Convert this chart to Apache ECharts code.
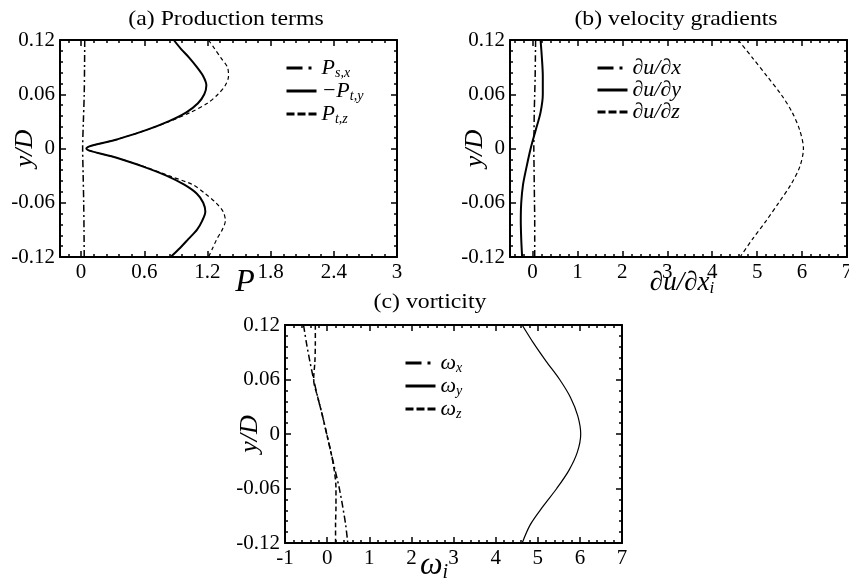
<!DOCTYPE html>
<html>
<head>
<meta charset="utf-8">
<script src="https://cdn.jsdelivr.net/npm/echarts@6/dist/echarts.min.js"></script>
<style>
  html, body { margin: 0; padding: 0; background: #fff; }
  #chart { width: 849px; height: 582px; }
</style>
</head>
<body>
<div id="chart"></div>
<script>
// y/D stations
const yFine = [0.12, 0.11, 0.10, 0.09, 0.08, 0.07, 0.06, 0.05, 0.04, 0.03, 0.02, 0.01, 0,
  -0.01, -0.02, -0.03, -0.04, -0.05, -0.06, -0.07, -0.08, -0.09, -0.10, -0.11, -0.12];
const yCoarse = [0.12, 0.10, 0.08, 0.06, 0.04, 0.02, 0, -0.02, -0.04, -0.06, -0.08, -0.10, -0.12];
const yPsx = [0.12, 0.09, 0.06, 0.03, 0, -0.03, -0.06, -0.09, -0.12];

// (a) production terms
const psx = [0.035, 0.033, 0.03, 0.022, 0.015, 0.02, 0.025, 0.028, 0.03];
const ptyNeg = [0.88, 0.95, 1.03, 1.10, 1.16, 1.19, 1.17, 1.11, 1.00, 0.83, 0.61, 0.34, 0.05,
  0.33, 0.59, 0.81, 0.98, 1.10, 1.16, 1.18, 1.15, 1.10, 1.02, 0.94, 0.85];
const ptz = [1.21, 1.27, 1.33, 1.39, 1.40, 1.37, 1.30, 1.20, 1.04, 0.84, 0.61, 0.34, 0.05,
  0.33, 0.60, 0.83, 1.06, 1.18, 1.28, 1.35, 1.37, 1.34, 1.29, 1.25, 1.21];

// (b) velocity gradients
const dudx = [0.07, 0.065, 0.06, 0.05, 0.04, 0.035, 0.03, 0.035, 0.04, 0.045, 0.05, 0.05, 0.05];
const dudy = [0.18, 0.21, 0.23, 0.23, 0.18, 0.07, -0.04, -0.13, -0.21, -0.25, -0.26, -0.25, -0.23];
const dudz = [4.58, 4.90, 5.22, 5.53, 5.78, 5.95, 6.03, 5.95, 5.75, 5.48, 5.20, 4.90, 4.62];

// (c) vorticity
const omx = [-0.56, -0.49, -0.41, -0.32, -0.22, -0.11, -0.01, 0.09, 0.19, 0.29, 0.37, 0.44, 0.49];
const omy = [4.63, 4.90, 5.20, 5.52, 5.78, 5.95, 6.02, 5.94, 5.74, 5.45, 5.12, 4.82, 4.63];
const omz = [-0.28, -0.28, -0.29, -0.32, -0.22, -0.11, -0.01, 0.09, 0.17, 0.21, 0.21, 0.20, 0.20];

// tick labels
const xTicksA = [0, 0.6, 1.2, 1.8, 2.4, 3];
const xTicksB = [0, 1, 2, 3, 4, 5, 6, 7];
const xTicksC = [-1, 0, 1, 2, 3, 4, 5, 6, 7];

const FONT = "Liberation Serif";
const DASHDOT = [7, 3, 2, 3];

function pairs(xs, ys) {
  return xs.map((x, i) => [x, ys[i]]);
}
function minors(from, to, step, majors) {
  const out = [];
  for (let v = from; v <= to + 1e-9; v += step) {
    const r = Math.round(v * 1000) / 1000;
    if (majors.indexOf(r) < 0) out.push(r);
  }
  return out;
}

const panels = [
  { grid: { left: 60, top: 40, width: 337, height: 217 }, min: -0.2, max: 3, majors: xTicksA, minor: minors(-0.12, 3, 0.12, xTicksA) },
  { grid: { left: 510, top: 40, width: 337, height: 217 }, min: -0.5, max: 7, majors: xTicksB, minor: minors(-0.4, 7, 0.2, xTicksB) },
  { grid: { left: 285, top: 325, width: 337, height: 218 }, min: -1, max: 7, majors: xTicksC, minor: minors(-1, 7, 0.2, xTicksC) }
];

const xAxes = [];
const yAxes = [];
panels.forEach((p, g) => {
  ["bottom", "top"].forEach(pos => {
    // major ticks (+ labels on bottom)
    xAxes.push({
      gridIndex: g, type: "value", position: pos, min: p.min, max: p.max,
      axisLine: { show: true, onZero: false, lineStyle: { color: "#000", width: 2 } },
      axisTick: { show: true, inside: true, length: 6, customValues: p.majors, lineStyle: { color: "#000", width: 1.5 } },
      axisLabel: { show: pos === "bottom", customValues: p.majors, margin: 5, color: "#000", fontFamily: FONT, fontSize: 21 },
      splitLine: { show: false }
    });
    // minor ticks
    xAxes.push({
      gridIndex: g, type: "value", position: pos, min: p.min, max: p.max,
      axisLine: { show: false, onZero: false },
      axisTick: { show: true, inside: true, length: 3, customValues: p.minor, lineStyle: { color: "#000", width: 1.5 } },
      axisLabel: { show: false },
      splitLine: { show: false }
    });
  });
  ["left", "right"].forEach(pos => {
    yAxes.push({
      gridIndex: g, type: "value", position: pos, min: -0.12, max: 0.12, interval: 0.06,
      name: pos === "left" ? "y/D" : "",
      nameLocation: "middle", nameRotate: 90, nameGap: 22, nameMoveOverlap: false,
      nameTextStyle: { fontFamily: FONT, fontStyle: "italic", fontSize: 26, color: "#000" },
      axisLine: { show: true, onZero: false, lineStyle: { color: "#000", width: 2 } },
      axisTick: { show: true, inside: true, length: 6, lineStyle: { color: "#000", width: 1.5 } },
      minorTick: { show: true, splitNumber: 5, length: 3, lineStyle: { color: "#000", width: 1.5 } },
      axisLabel: { show: pos === "left", margin: 5, color: "#000", fontFamily: FONT, fontSize: 21 },
      splitLine: { show: false }
    });
  });
});

function line(name, g, data, width, type) {
  return {
    name: name, type: "line", xAxisIndex: g * 4, yAxisIndex: g * 2,
    data: data, symbol: "none", smooth: 0.3, silent: true,
    itemStyle: { color: "#000" },
    lineStyle: { color: "#000", width: width, type: type }
  };
}

const legendNames = {
  "Psx": "{m|P}{s|s,x}",
  "Pty": "{m|−P}{s|t,y}",
  "Ptz": "{m|P}{s|t,z}",
  "dudx": "{m|∂u/∂x}",
  "dudy": "{m|∂u/∂y}",
  "dudz": "{m|∂u/∂z}",
  "wx": "{m|ω}{s|x}",
  "wy": "{m|ω}{s|y}",
  "wz": "{m|ω}{s|z}"
};
const legendText = {
  fontFamily: FONT, fontStyle: "italic", fontSize: 22, color: "#000",
  rich: {
    m: { fontFamily: FONT, fontStyle: "italic", fontSize: 22, lineHeight: 24, color: "#000" },
    s: { fontFamily: FONT, fontStyle: "italic", fontSize: 14, lineHeight: 14, verticalAlign: "bottom", color: "#000" }
  }
};
function legend(left, top, names) {
  const types = [[16, 6, 3, 5], "solid", [8, 3]];
  return {
    orient: "vertical", left: left, top: top, itemWidth: 30, itemHeight: 14, itemGap: 0,
    selectedMode: false, formatter: n => legendNames[n], textStyle: legendText,
    itemStyle: { opacity: 0 },
    data: names.map((n, i) => ({ name: n, lineStyle: { width: 3, type: types[i], color: "#000" } }))
  };
}

function caption(x, y, text, size) {
  return {
    type: "text", x: x, y: y, scaleX: 1.08,
    style: { text: text, fill: "#000", font: size + "px " + FONT, align: "center", verticalAlign: "middle" }
  };
}
function mathLabel(x, y, text, size) {
  return {
    type: "text", x: x, y: y,
    style: {
      text: text, fill: "#000", align: "center", verticalAlign: "middle",
      rich: {
        m: { fontFamily: FONT, fontStyle: "italic", fontSize: size, lineHeight: size + 2, fill: "#000" },
        s: { fontFamily: FONT, fontStyle: "italic", fontSize: Math.round(size * 0.62), lineHeight: Math.round(size * 0.62), verticalAlign: "bottom", fill: "#000" }
      }
    }
  };
}

const option = {
  backgroundColor: "#fff",
  animation: false,
  grid: panels.map(p => Object.assign({ containLabel: false, outerBoundsMode: "none" }, p.grid)),
  xAxis: xAxes,
  yAxis: yAxes,
  legend: [
    legend(280, 52, ["Psx", "Pty", "Ptz"]),
    legend(591, 52, ["dudx", "dudy", "dudz"]),
    legend(399, 347, ["wx", "wy", "wz"])
  ],
  graphic: [
    caption(226, 19, "(a) Production terms", 22),
    caption(676, 19, "(b) velocity gradients", 22),
    caption(430, 302, "(c) vorticity", 22),
    mathLabel(245, 283, "{m|P}", 32),
    mathLabel(682, 283, "{m|∂u/∂x}{s|i}", 27),
    mathLabel(434, 566, "{m|ω}{s|i}", 32)
  ],
  series: [
    line("Psx", 0, pairs(psx, yPsx), 1.5, DASHDOT),
    line("Pty", 0, pairs(ptyNeg, yFine), 2, "solid"),
    line("Ptz", 0, pairs(ptz, yFine), 1.2, [4, 3]),
    line("dudx", 1, pairs(dudx, yCoarse), 1.5, DASHDOT),
    line("dudy", 1, pairs(dudy, yCoarse), 2, "solid"),
    line("dudz", 1, pairs(dudz, yCoarse), 1.2, [4, 3]),
    line("wx", 2, pairs(omx, yCoarse), 1.5, DASHDOT),
    line("wy", 2, pairs(omy, yCoarse), 1.2, "solid"),
    line("wz", 2, pairs(omz, yCoarse), 1.5, [5, 3])
  ]
};

const chart = echarts.init(document.getElementById("chart"), null, { renderer: "canvas" });
chart.setOption(option);
</script>
</body>
</html>
